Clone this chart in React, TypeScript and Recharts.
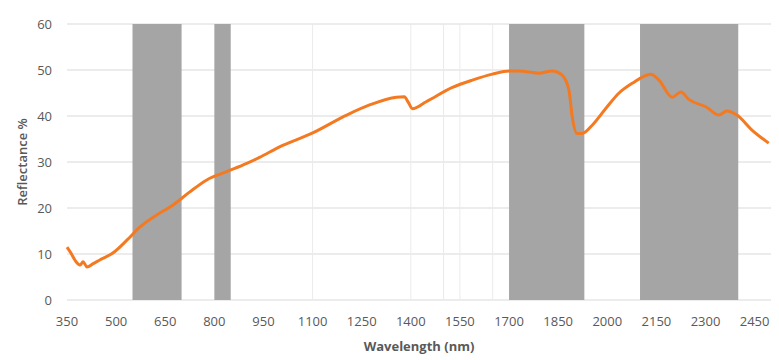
import React from 'react';
import { LineChart, Line, XAxis, YAxis, CartesianGrid, ReferenceArea, ReferenceLine, Label } from 'recharts';

// wavelength (nm) and reflectance (%)
const wavelengths = [350, 362, 374, 390, 399, 411, 430, 450, 490, 533, 573, 624, 673, 725, 777, 838, 899, 938, 999, 1097, 1204, 1274, 1356, 1380, 1392, 1405, 1447, 1527, 1588, 1649, 1701, 1731, 1792, 1832, 1862, 1883, 1893, 1908, 1923, 1954, 1996, 2036, 2076, 2133, 2158, 2198, 2225, 2249, 2301, 2341, 2365, 2396, 2441, 2493];
const reflectance = [11.5, 10.2, 8.7, 7.6, 8.3, 7.2, 7.9, 8.7, 10.2, 13, 15.9, 18.5, 20.6, 23.5, 26.1, 27.9, 29.7, 31, 33.3, 36.2, 40.2, 42.4, 44.1, 44.2, 43, 41.6, 43.1, 46.2, 47.8, 49.1, 49.8, 49.8, 49.3, 49.8, 48.9, 45.6, 39.8, 36.2, 36.2, 38, 41.7, 45, 47.1, 49.1, 47.8, 44.1, 45.2, 43.6, 42, 40.2, 41.1, 40.2, 37, 34.1];

const xTicks = [350, 500, 650, 800, 950, 1100, 1250, 1400, 1550, 1700, 1850, 2000, 2150, 2300, 2450];
const yTicks = [0, 10, 20, 30, 40, 50, 60];

// shaded absorption bands [from, to]
const bands: [number, number][] = [[550, 700], [800, 850], [1700, 1930], [2100, 2400]];
// faint leftover vertical gridlines
const faintLines = [1100, 1400, 1500, 1550, 1650];

const data = wavelengths.map((wl, i) => ({ wl, r: reflectance[i] }));

const font = '"Open Sans", sans-serif';
const tickStyle = { fontFamily: font, fontSize: 13, fill: '#595959' };

export default function App() {
  return (
    <div style={{ position: 'absolute', left: 0, top: 0, width: 779, height: 360, background: '#fff' }}>
      <LineChart width={779} height={360} data={data} margin={{ top: 24, right: 8, bottom: 0, left: 0 }}>
        <CartesianGrid vertical={false} stroke="#d9d9d9" />
        {faintLines.map(x => (
          <ReferenceLine key={x} x={x} stroke="#ebebeb" strokeWidth={1} />
        ))}
        {bands.map(([a, b]) => (
          <ReferenceArea key={a} x1={a} x2={b} y1={0} y2={60} fill="#a5a5a5" fillOpacity={1} stroke="none" />
        ))}
        <XAxis
          dataKey="wl"
          type="number"
          domain={[350, 2500]}
          ticks={xTicks}
          interval={0}
          axisLine={false}
          tickLine={false}
          tickSize={0}
          tickMargin={17}
          tick={tickStyle}
          height={60}
        >
          <Label
            value="Wavelength (nm)"
            position="insideBottom"
            offset={9}
            style={{ fontFamily: font, fontSize: 13, fontWeight: 700, fill: '#595959' }}
          />
        </XAxis>
        <YAxis
          type="number"
          domain={[0, 60]}
          ticks={yTicks}
          interval={0}
          axisLine={false}
          tickLine={false}
          tickSize={0}
          tickMargin={15}
          tick={tickStyle}
          width={67}
        >
          <Label
            content={(props: any) => {
              const vb = props.viewBox || { y: 24, height: 276 };
              const cy = vb.y + vb.height / 2;
              return (
                <text
                  x={22}
                  y={cy}
                  transform={`rotate(-90, 22, ${cy})`}
                  textAnchor="middle"
                  dominantBaseline="central"
                  style={{ fontFamily: font, fontSize: 13, fontWeight: 600, fill: '#595959' }}
                >
                  Reflectance %
                </text>
              );
            }}
          />
        </YAxis>
        <Line type="monotone" dataKey="r" stroke="#f47a22" strokeWidth={3} dot={false} isAnimationActive={false} />
      </LineChart>
    </div>
  );
}
